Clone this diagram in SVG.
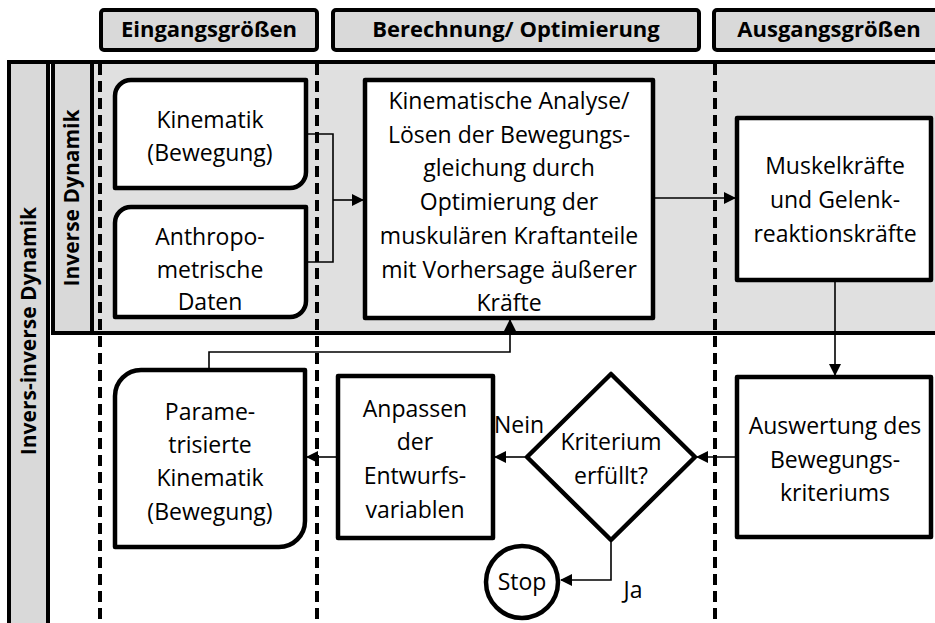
<svg xmlns="http://www.w3.org/2000/svg" width="935" height="623" viewBox="0 0 935 623">
<style>
.hdr{fill:#d9d9d9;stroke:#000;stroke-width:4}
.ht{font-family:"Open Sans","Liberation Sans",sans-serif;font-weight:bold;font-size:22px;text-anchor:middle;fill:#000}
.rt{font-family:"Open Sans","Liberation Sans",sans-serif;font-weight:bold;font-size:21px;text-anchor:middle;fill:#000}
.t{font-family:"Open Sans","Liberation Sans",sans-serif;font-size:23px;text-anchor:middle;fill:#000}
.node{fill:#fff;stroke:#000;stroke-width:4.5;stroke-linejoin:round}
.dash{stroke:#000;stroke-width:4;stroke-dasharray:11 6;fill:none}
.con{fill:none;stroke:#000;stroke-width:1.6}
.frame{stroke:#000;stroke-width:4;fill:none}
</style>
<defs>
<marker id="ah" markerWidth="12" markerHeight="12" refX="11" refY="6" orient="auto" markerUnits="userSpaceOnUse">
<path d="M0,0 L12,6 L0,12 Z" fill="#000"/>
</marker>
</defs>
<rect width="935" height="623" fill="#fff"/>

<!-- header boxes -->
<g id="hdr-ein"><rect class="hdr" x="101" y="10" width="216" height="40" rx="3"/><text class="ht" x="209" y="37">Eingangsgrößen</text></g>
<g id="hdr-ber"><rect class="hdr" x="333" y="10" width="366" height="40" rx="3"/><text class="ht" x="516" y="37">Berechnung/ Optimierung</text></g>
<g id="hdr-aus"><rect class="hdr" x="714" y="10" width="230" height="40" rx="3"/><text class="ht" x="829" y="37">Ausgangsgrößen</text></g>

<!-- lanes -->
<g id="lanes">
<rect x="9" y="62" width="40" height="570" fill="#d9d9d9"/>
<rect x="53" y="62" width="890" height="271" fill="#e0e0e0"/>
<rect x="53" y="62" width="39" height="271" fill="#d9d9d9"/>
<path class="frame" d="M9,623 V62 H940"/>
<path class="frame" d="M48,62 V623"/>
<path class="frame" d="M53,62 V333 H940"/>
<path class="frame" d="M92,62 V333" stroke-width="3"/>
<text class="rt" transform="translate(36,331) rotate(-90)">Invers-inverse Dynamik</text>
<text class="rt" transform="translate(79,198) rotate(-90)">Inverse Dynamik</text>
<line class="dash" x1="100" y1="64" x2="100" y2="623"/>
<line class="dash" x1="317" y1="64" x2="317" y2="623"/>
<line class="dash" x1="715" y1="64" x2="715" y2="623"/>
</g>

<!-- connectors -->
<g id="connectors">
<path class="con" d="M306,134 H333 V262 H306"/>
<path class="con" d="M333,200 H363" marker-end="url(#ah)"/>
<path class="con" d="M653,198 H735" marker-end="url(#ah)"/>
<path class="con" d="M835,280 V375" marker-end="url(#ah)"/>
<path class="con" d="M737,457 H697" marker-end="url(#ah)"/>
<path class="con" d="M527,457 H495" marker-end="url(#ah)"/>
<path class="con" d="M338,457 H307" marker-end="url(#ah)"/>
<path class="con" d="M209,370 V352 H510 V320" marker-end="url(#ah)"/>
<path class="con" d="M611,540 V580 H561" marker-end="url(#ah)"/>
<text class="t" x="519" y="433">Nein</text>
<text class="t" x="633" y="598">Ja</text>
</g>

<!-- nodes -->
<g id="kinematik">
<path class="node" d="M131,80 H306 V172 A16,16 0 0 1 290,188 H115 V96 A16,16 0 0 1 131,80 Z"/>
<text class="t" x="210" y="128">Kinematik</text>
<text class="t" x="210" y="161">(Bewegung)</text>
</g>
<g id="anthropo">
<path class="node" d="M131,207 H306 V301 A16,16 0 0 1 290,317 H115 V223 A16,16 0 0 1 131,207 Z"/>
<text class="t" x="210" y="245">Anthropo-</text>
<text class="t" x="210" y="278">metrische</text>
<text class="t" x="210" y="310">Daten</text>
</g>
<g id="analyse">
<rect class="node" x="365" y="80" width="288" height="238"/>
<text class="t" x="509" y="109">Kinematische Analyse/</text>
<text class="t" x="509" y="143">Lösen der Bewegungs-</text>
<text class="t" x="509" y="176">gleichung durch</text>
<text class="t" x="509" y="210">Optimierung der</text>
<text class="t" x="509" y="244">muskulären Kraftanteile</text>
<text class="t" x="509" y="278">mit Vorhersage äußerer</text>
<text class="t" x="509" y="311">Kräfte</text>
</g>
<g id="muskel">
<rect class="node" x="737" y="118" width="194" height="162"/>
<text class="t" x="835" y="174">Muskelkräfte</text>
<text class="t" x="835" y="208">und Gelenk-</text>
<text class="t" x="835" y="242">reaktionskräfte</text>
</g>
<g id="parametrisiert">
<path class="node" d="M141,370 H305 V521 A26,26 0 0 1 279,547 H115 V396 A26,26 0 0 1 141,370 Z"/>
<text class="t" x="210" y="420">Parame-</text>
<text class="t" x="210" y="453">trisierte</text>
<text class="t" x="210" y="486">Kinematik</text>
<text class="t" x="210" y="520">(Bewegung)</text>
</g>
<g id="anpassen">
<rect class="node" x="338" y="376" width="155" height="162"/>
<text class="t" x="415" y="417">Anpassen</text>
<text class="t" x="415" y="450">der</text>
<text class="t" x="415" y="484">Entwurfs-</text>
<text class="t" x="415" y="518">variablen</text>
</g>
<g id="kriterium">
<path class="node" d="M611,374 L695,457 L611,540 L527,457 Z"/>
<text class="t" x="611" y="450">Kriterium</text>
<text class="t" x="611" y="484">erfüllt?</text>
</g>
<g id="auswertung">
<rect class="node" x="737" y="377" width="194" height="160"/>
<text class="t" x="835" y="434">Auswertung des</text>
<text class="t" x="835" y="468">Bewegungs-</text>
<text class="t" x="835" y="501">kriteriums</text>
</g>
<g id="stop">
<circle class="node" cx="522" cy="582" r="36"/>
<text class="t" x="522" y="590">Stop</text>
</g>
</svg>
